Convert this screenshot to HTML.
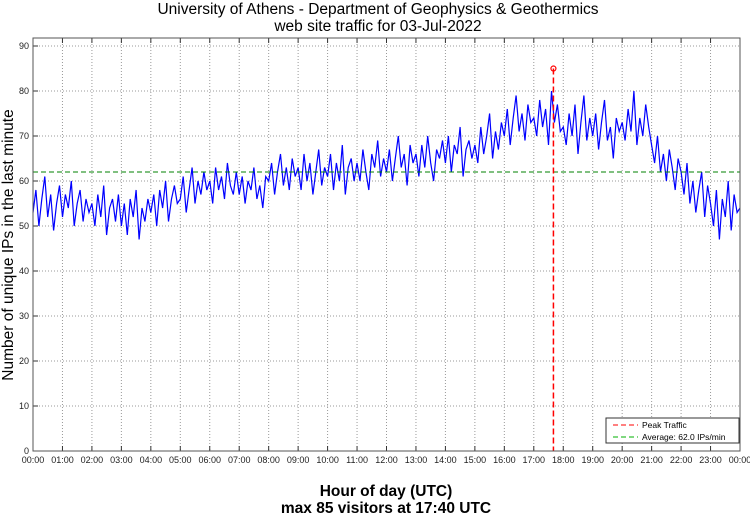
<!DOCTYPE html>
<html><head><meta charset="utf-8"><style>
body{margin:0;background:#fff;width:750px;height:515px;overflow:hidden}
text{font-family:"Liberation Sans",sans-serif}
</style></head><body>
<svg id="chart" width="750" height="515" xmlns="http://www.w3.org/2000/svg">
<text x="378" y="14" font-size="15.5" text-anchor="middle">University of Athens - Department of Geophysics &amp; Geothermics</text>
<text x="378" y="31" font-size="15.5" text-anchor="middle">web site traffic for 03-Jul-2022</text>
<text x="386" y="496" font-size="15.5" text-anchor="middle" font-weight="bold">Hour of day (UTC)</text>
<text x="386" y="513" font-size="15.5" text-anchor="middle" font-weight="bold">max 85 visitors at 17:40 UTC</text>
<text transform="translate(13,245) rotate(-90)" font-size="15.5" text-anchor="middle">Number of unique IPs in the last minute</text>
<g id="grid"></g><g id="series"></g><g id="axes"></g>
</svg>
<script>
const hours = [];
for (let h = 0; h <= 24; h++) hours.push(String(h % 24).padStart(2,'0') + ':00');
const yTicks = [0,10,20,30,40,50,60,70,80,90];
const visitors = [
53,58,50,56,61,52,57,49,55,59, 52,57,54,60,50,55,58,51,56,53,
55,50,57,52,59,48,54,56,51,57, 50,55,48,56,52,58,47,54,51,56,
53,57,50,58,54,60,51,56,59,55, 56,61,53,58,63,55,60,57,62,58,
60,55,63,58,61,56,64,59,57,62, 57,61,55,60,58,63,56,59,54,61,
60,64,57,62,66,59,63,58,65,61, 63,58,66,60,64,57,62,67,59,63,
61,66,58,64,60,68,57,63,65,60, 64,60,67,62,58,66,63,69,61,65,
62,67,60,65,70,63,66,59,68,64, 66,61,68,63,70,64,60,67,65,69,
64,70,62,68,66,72,61,67,69,65, 68,64,72,66,70,75,65,71,67,73,
70,76,68,74,79,71,75,69,77,73, 74,70,78,72,76,68,80,73,77,71,
72,68,75,70,77,66,73,79,69,74, 70,75,67,73,78,69,72,65,74,71,
73,69,76,71,80,68,74,70,77,72, 68,64,70,62,66,60,67,63,58,65,
62,57,64,55,60,53,58,62,52,59, 55,50,58,47,56,52,60,49,57,53, 54];
const averageValue = [62.0];
const peakHour = [17 + 40/60];
const peakValue = [85];

const L=33,R=740,T=38,B=451,yMax=91.78;
const X=h=>L+(h/24)*(R-L);
const Y=v=>B-(v/yMax)*(B-T);
const NS='http://www.w3.org/2000/svg';
function mk(tag,attrs,parent,txt){const e=document.createElementNS(NS,tag);for(const k in attrs)e.setAttribute(k,attrs[k]);if(txt!==undefined)e.textContent=txt;document.getElementById(parent).appendChild(e);return e;}

for (let i=0;i<hours.length;i++){
  const x=X(i);
  if(i>0&&i<24){const g=mk('line',{x1:x,x2:x,y1:T,y2:B,stroke:'#999','stroke-dasharray':'1,2','stroke-width':1},'grid');
  
  }
  const t=mk('line',{x1:x,x2:x,y1:B,y2:B-5,stroke:'#333'},'axes');
  
  
  const t2=mk('line',{x1:x,x2:x,y1:T,y2:T+5,stroke:'#333'},'axes');
  
  
  const lb=mk('text',{x:x,y:B+12,'font-size':9,'text-anchor':'middle',fill:'#222'},'axes',hours[i]);
  
  
}
yTicks.forEach(v=>{
  const y=Y(v);
  if(v>0){const g=mk('line',{x1:L,x2:R,y1:y,y2:y,stroke:'#999','stroke-dasharray':'1,2'},'grid');
  
  }
  const t=mk('line',{x1:L,x2:L+5,y1:y,y2:y,stroke:'#333'},'axes');
  
  
  const lb=mk('text',{x:L-4,y:y+3,'font-size':9,'text-anchor':'end',fill:'#222'},'axes',String(v));
  
  
});
const fr=mk('rect',{x:L,y:T,width:R-L,height:B-T,fill:'none',stroke:'#555'},'axes');



const n=visitors.length;
const pts=visitors.map((v,i)=>X(i*24/(n-1)).toFixed(1)+','+Y(v).toFixed(1)).join(' ');
const ln=mk('polyline',{points:pts,fill:'none',stroke:'#0000ff','stroke-width':1.2},'series');



const av=mk('line',{x1:L,x2:R,y1:Y(averageValue[0]),y2:Y(averageValue[0]),stroke:'#008000','stroke-dasharray':'5,3','stroke-width':1},'series');


const pk=mk('line',{x1:X(peakHour[0]),x2:X(peakHour[0]),y1:Y(peakValue[0]),y2:B,stroke:'#ff0000','stroke-dasharray':'6,3','stroke-width':1.5},'series');


const pc=mk('circle',{cx:X(peakHour[0]),cy:Y(peakValue[0]),r:2.5,fill:'none',stroke:'#ff0000','stroke-width':1.2},'series');



const lg=mk('rect',{x:606,y:418,width:133,height:25,fill:'#fff',stroke:'#333'},'axes');


const l1=mk('line',{x1:613,x2:638,y1:425,y2:425,stroke:'#ff0000','stroke-dasharray':'5,3'},'axes');


const t1=mk('text',{x:642,y:428,'font-size':8.5},'axes','Peak Traffic');


const l2=mk('line',{x1:613,x2:638,y1:437,y2:437,stroke:'#00b000','stroke-dasharray':'5,3'},'axes');


const t2=mk('text',{x:642,y:440,'font-size':8.5},'axes','Average: 62.0 IPs/min');


</script>
</body></html>
